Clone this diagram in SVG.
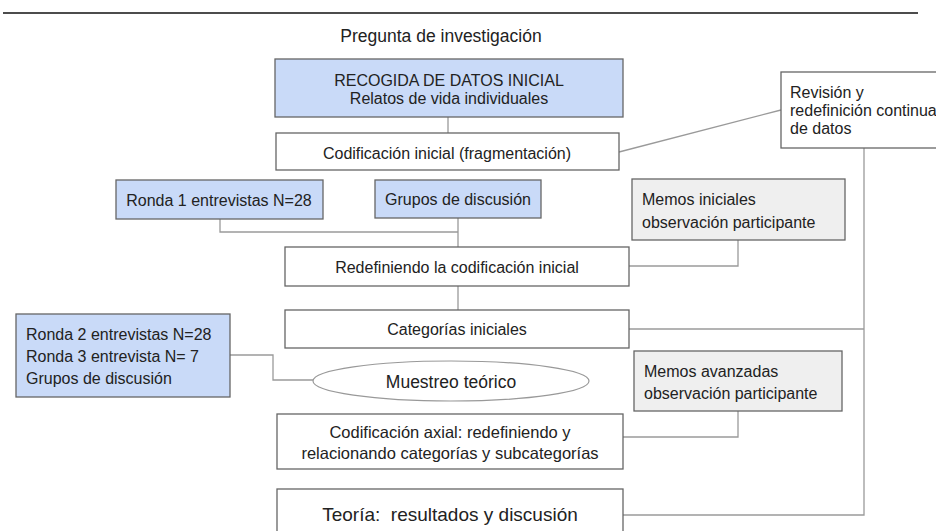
<svg xmlns="http://www.w3.org/2000/svg" width="936" height="531" viewBox="0 0 936 531">
<style>
.box{stroke:#666;stroke-width:1.3}
.blue{fill:#c9daf8}
.white{fill:#fff}
.grey{fill:#efefef}
text{font-family:"Liberation Sans",Arial,sans-serif;fill:#222}
.c{text-anchor:middle}
.s16{font-size:16px}
.s17{font-size:16.5px}
.s18{font-size:17.5px}
.s19{font-size:19px}
.conn{fill:none;stroke:#9a9a9a;stroke-width:1.3}
</style>
<rect width="936" height="531" fill="#fff"/>
<line x1="3" y1="13" x2="918" y2="13" stroke="#111" stroke-width="1.5"/>
<g id="connectors">
<line class="conn" x1="448" y1="117" x2="448" y2="133"/>
<line class="conn" x1="619" y1="152" x2="781" y2="110"/>
<polyline class="conn" points="220,219 220,232 458,232"/>
<line class="conn" x1="458" y1="218" x2="458" y2="247"/>
<polyline class="conn" points="738,240 738,266 629,266"/>
<line class="conn" x1="458" y1="286" x2="458" y2="310"/>
<polyline class="conn" points="864,148 864,515 623,515"/>
<line class="conn" x1="629" y1="329" x2="864" y2="329"/>
<polyline class="conn" points="230,355 273,355 273,380 313,380"/>
<polyline class="conn" points="738,411 738,437 623,437"/>
</g>
<g id="title"><text class="c s18" x="441" y="42">Pregunta de investigación</text></g>
<g id="recogida">
<rect class="box blue" x="275" y="59" width="348" height="58"/>
<text class="c s16" x="449" y="86">RECOGIDA DE DATOS INICIAL</text>
<text class="c s16" x="449" y="104">Relatos de vida individuales</text>
</g>
<g id="codificacion">
<rect class="box white" x="276" y="133" width="343" height="37"/>
<text class="c s16" x="447" y="159">Codificación inicial (fragmentación)</text>
</g>
<g id="revision">
<rect class="box white" x="781" y="72" width="170" height="76"/>
<text class="s16" x="790" y="98">Revisión y</text>
<text class="s16" x="790" y="116">redefinición continua</text>
<text class="s16" x="790" y="134">de datos</text>
</g>
<g id="ronda1">
<rect class="box blue" x="116" y="180" width="207" height="39"/>
<text class="c s16" x="219" y="206">Ronda 1 entrevistas N=28</text>
</g>
<g id="grupos1">
<rect class="box blue" x="375" y="180" width="166" height="38"/>
<text class="c s16" x="458" y="205">Grupos de discusión</text>
</g>
<g id="memos-iniciales">
<rect class="box grey" x="632" y="179" width="213" height="61"/>
<text class="s16" x="642" y="205">Memos iniciales</text>
<text class="s16" x="642" y="228">observación participante</text>
</g>
<g id="redefiniendo">
<rect class="box white" x="285" y="247" width="344" height="39"/>
<text class="c s16" x="457" y="273">Redefiniendo la codificación inicial</text>
</g>
<g id="categorias">
<rect class="box white" x="285" y="310" width="344" height="38"/>
<text class="c s16" x="457" y="335">Categorías iniciales</text>
</g>
<g id="ronda2">
<rect class="box blue" x="16" y="314" width="214" height="83"/>
<text class="s16" x="26" y="340">Ronda 2 entrevistas N=28</text>
<text class="s16" x="26" y="362">Ronda 3 entrevista N= 7</text>
<text class="s16" x="26" y="384">Grupos de discusión</text>
</g>
<g id="muestreo">
<ellipse cx="451" cy="381" rx="138" ry="20" fill="#fff" stroke="#999" stroke-width="1.2"/>
<text class="c s18" x="451" y="387.5">Muestreo teórico</text>
</g>
<g id="memos-avanzadas">
<rect class="box grey" x="634" y="351" width="208" height="60"/>
<text class="s16" x="644" y="377">Memos avanzadas</text>
<text class="s16" x="644" y="399">observación participante</text>
</g>
<g id="axial">
<rect class="box white" x="277" y="414" width="346" height="55"/>
<text class="c s17" x="450" y="438">Codificación axial: redefiniendo y</text>
<text class="c s17" x="450" y="459">relacionando categorías y subcategorías</text>
</g>
<g id="teoria">
<rect class="box white" x="277" y="489" width="346" height="50"/>
<text class="c s19" x="450" y="521" xml:space="preserve">Teoría:  resultados y discusión</text>
</g>
</svg>
